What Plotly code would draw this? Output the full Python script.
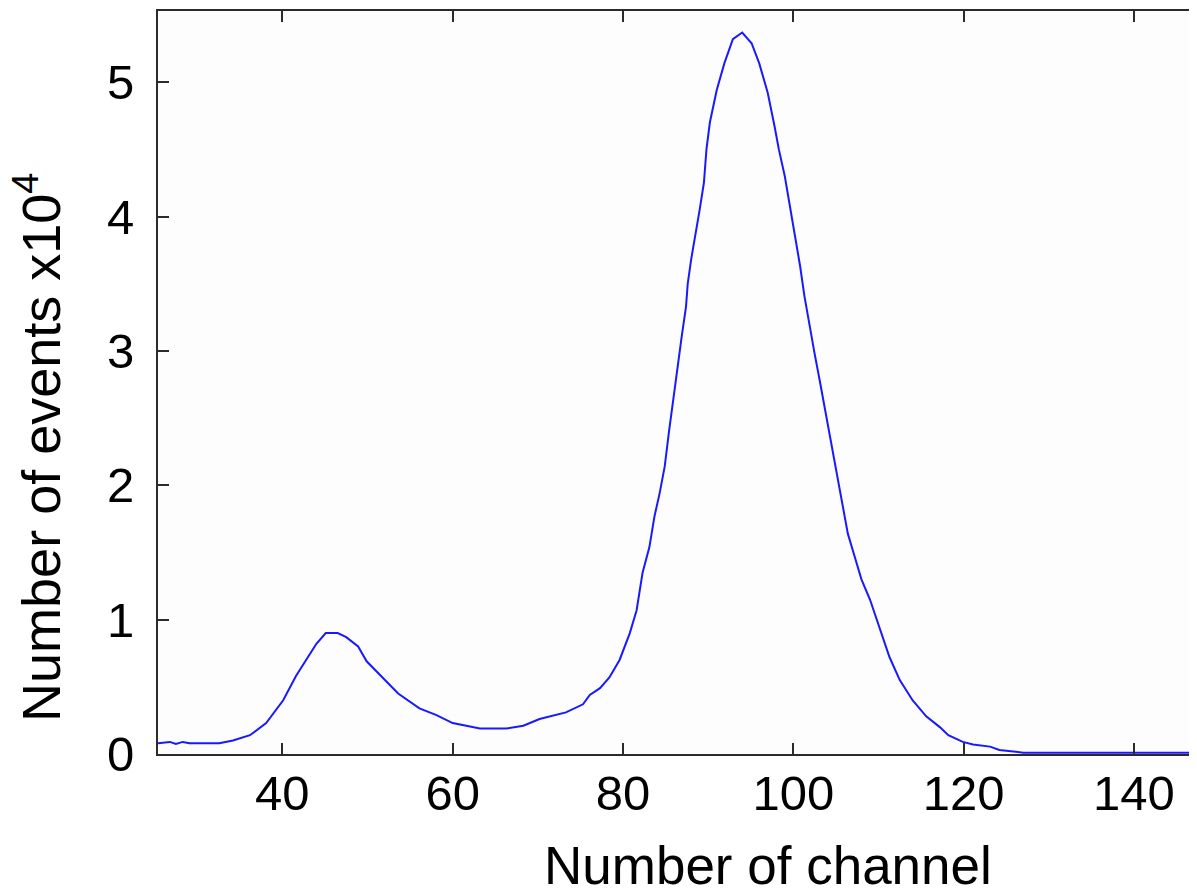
import plotly.graph_objects as go

channel = [25.4, 26.8, 27.5, 28.3, 29.1, 30.5, 32.6, 34.2, 36.2, 38.1, 40.1, 41.6, 42.8, 44.0,
           45.1, 46.5, 47.5, 48.9, 49.9, 51.4, 53.6, 56.1, 58.1, 60.0, 61.6, 63.2, 66.3, 68.3,
           70.2, 73.3, 75.3, 76.1, 77.3, 78.4, 79.6, 80.2, 80.8, 81.6, 82.3, 83.1, 83.7, 84.3,
           84.9, 85.4, 86.0, 86.5, 86.9, 87.4, 87.6, 88.0, 88.5, 89.0, 89.5, 89.8, 90.2, 91.0,
           91.9, 92.9, 94.0, 95.1, 96.0, 97.0, 97.8, 98.3, 99.0, 99.6, 100.2, 100.8, 101.3,
           101.9, 102.5, 103.1, 103.5, 104.1, 104.7, 105.2, 105.8, 106.4, 107.2, 108.0, 109.0,
           109.8, 110.5, 111.3, 112.5, 114.0, 115.6, 117.2, 118.2, 119.9, 121.1, 123.1, 124.2,
           125.8, 127.0, 147.4]
events = [0.08, 0.09, 0.075, 0.09, 0.08, 0.08, 0.08, 0.10, 0.14, 0.23, 0.40, 0.58, 0.70, 0.82,
          0.90, 0.90, 0.87, 0.80, 0.69, 0.59, 0.45, 0.34, 0.29, 0.23, 0.21, 0.19, 0.19, 0.21,
          0.26, 0.31, 0.37, 0.44, 0.49, 0.57, 0.70, 0.80, 0.90, 1.07, 1.35, 1.54, 1.77, 1.94,
          2.14, 2.40, 2.70, 2.93, 3.11, 3.33, 3.50, 3.68, 3.85, 4.05, 4.25, 4.50, 4.70, 4.94,
          5.14, 5.32, 5.37, 5.29, 5.14, 4.92, 4.67, 4.50, 4.30, 4.08, 3.83, 3.63, 3.41,
          3.18, 2.98, 2.78, 2.64, 2.44, 2.24, 2.04, 1.84, 1.64, 1.47, 1.30, 1.15,
          1.00, 0.87, 0.72, 0.55, 0.40, 0.28, 0.20, 0.14, 0.09, 0.07, 0.055, 0.03,
          0.02, 0.01, 0.01]

x_ticks = [40, 60, 80, 100, 120, 140]
y_ticks = [0, 1, 2, 3, 4, 5]
x_title = "Number of channel"
y_title = "Number of events x10<sup>4</sup>"

font_family = "Liberation Sans, Arial, sans-serif"
axis_color = "#2b2b2b"

fig = go.Figure()
fig.add_trace(go.Scatter(x=channel, y=events, mode="lines",
                         line=dict(color="rgb(25,25,255)", width=2),
                         showlegend=False, cliponaxis=True))

fig.update_layout(
    width=1189, height=880,
    margin=dict(l=150, r=0, t=3, b=134),
    paper_bgcolor="white",
    plot_bgcolor="#fdfdfd",
    font=dict(family=font_family, color="black"),
    xaxis=dict(range=[25.4, 147.4], tickvals=x_ticks, ticktext=[str(v) for v in x_ticks],
               showline=True, linecolor=axis_color, linewidth=2, mirror="ticks",
               ticks="inside", ticklen=11, tickwidth=2, tickcolor=axis_color,
               showgrid=False, zeroline=False, tickfont=dict(size=49, family=font_family),
               ticklabelstandoff=-5),
    yaxis=dict(range=[0, 5.53], tickvals=y_ticks, ticktext=[str(v) for v in y_ticks],
               showline=True, linecolor=axis_color, linewidth=2, mirror=False,
               ticks="inside", ticklen=11, tickwidth=2, tickcolor=axis_color,
               showgrid=False, zeroline=False, tickfont=dict(size=49, family=font_family),
               ticklabelstandoff=12),
    annotations=[
        dict(text=x_title, xref="paper", yref="paper", x=0.587, y=-0.108,
             xanchor="center", yanchor="top", showarrow=False,
             font=dict(size=53, family=font_family, color="black")),
        dict(text=y_title, xref="paper", yref="paper", x=-0.1157, y=0.413,
             xanchor="center", yanchor="middle", textangle=-90, showarrow=False,
             font=dict(size=54, family=font_family, color="black")),
    ],
)

fig.write_html("out.html")
